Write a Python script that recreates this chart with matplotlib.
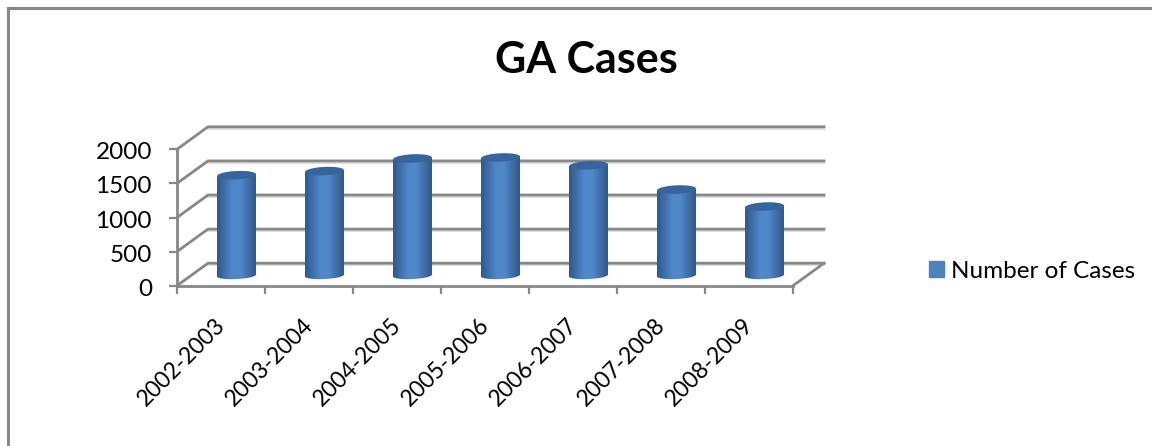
import numpy as np
import matplotlib
matplotlib.use("Agg")
import matplotlib.pyplot as plt
from matplotlib.patches import PathPatch, Patch
from matplotlib.path import Path
from matplotlib.colors import LinearSegmentedColormap
from matplotlib.transforms import ScaledTranslation

plt.rcParams['font.family'] = ['Lato', 'DejaVu Sans']

years = ["2002-2003", "2003-2004", "2004-2005", "2005-2006",
         "2006-2007", "2007-2008", "2008-2009"]
cases = [1470, 1530, 1715, 1730, 1615, 1260, 1010]
y_ticks = [0, 500, 1000, 1500, 2000]

W, H = 1152, 446
GREY = "#888888"

fig = plt.figure(figsize=(W / 100, H / 100), dpi=100)

# plot area in pixels, front face of the fake 3D box
left, right, bottom, top = 177, 793, 285.7, 149.3
ax = fig.add_axes([left / W, 1 - bottom / H, (right - left) / W, (bottom - top) / H])
ax.set_xlim(0, len(years))
ax.set_ylim(0, 2000)
ax.patch.set_alpha(0)

px_x = len(years) / (right - left)
px_y = 2000 / (bottom - top)

# depth of the box
dx = 31 * px_x
dy = 22.5 * px_y

# back wall and side wall gridlines, with the soft shadow under them
for v in y_ticks:
    ax.plot([dx, len(years) + dx], [v + dy - 2.2 * px_y] * 2, color="#dedede", lw=1.5,
            clip_on=False, zorder=0.5)
    ax.plot([0, dx, len(years) + dx], [v, v + dy, v + dy], color=GREY, lw=2.0,
            clip_on=False, solid_joinstyle="miter", zorder=1)
ax.plot([len(years), len(years) + dx], [0, dy], color=GREY, lw=2.0,
        clip_on=False, zorder=1)

# cylinders
cmap = LinearSegmentedColormap.from_list(
    "cyl", ["#2d5a8c", "#3f70a9", "#5287c9", "#5287c9", "#3f70a9", "#2d5a8c"])
grad = np.linspace(0, 1, 256).reshape(1, -1)
half = 19.5 * px_x
top_h = 4.2 * px_y
bot_h = 3.6 * px_y
tilt = 0.9 * px_y
t = np.linspace(0, np.pi, 40)
t2 = np.linspace(0, 2 * np.pi, 80)

for i, val in enumerate(cases):
    cx = i + 0.5 + dx / 2
    y0 = dy / 2 - 1 * px_y
    y1 = y0 + val
    c = np.cos(t)
    xs = cx + half * c
    body_x = np.concatenate([xs, xs[::-1]])
    body_y = np.concatenate([y1 + tilt * c,
                             (y0 + tilt * c - bot_h * np.sin(t))[::-1]])
    body = Path(np.column_stack([body_x, body_y]))
    im = ax.imshow(grad, cmap=cmap, aspect="auto", zorder=3,
                   extent=[cx - half, cx + half, y0 - bot_h - tilt, y1 + top_h + tilt])
    im.set_clip_path(PathPatch(body, transform=ax.transData))

    cap_x = cx + half * np.cos(t2)
    cap_y = y1 + top_h * np.sin(t2) + tilt * np.cos(t2)
    ax.fill(cap_x, cap_y, color="#35659a", zorder=4, clip_on=False, lw=0)

ax.set_xlim(0, len(years))
ax.set_ylim(0, 2000)

# axes
for s in ["top", "right"]:
    ax.spines[s].set_visible(False)
for s in ["left", "bottom"]:
    ax.spines[s].set_color(GREY)
    ax.spines[s].set_linewidth(2.0)
    ax.spines[s].set_zorder(2)

ax.set_yticks(y_ticks)
ax.set_yticklabels([str(v) for v in y_ticks], fontsize=17.5, color="black")
ax.tick_params(axis="y", length=6, width=1.6, color=GREY, pad=12)
shift_y = ScaledTranslation(0, -1.5 / 100, fig.dpi_scale_trans)
for lab in ax.get_yticklabels():
    lab.set_transform(lab.get_transform() + shift_y)

ax.set_xticks(range(len(years) + 1))
ax.set_xticklabels([])
ax.set_xticks(np.arange(len(years)) + 0.5, minor=True)
ax.set_xticklabels(years, minor=True, rotation=45, ha="right",
                   rotation_mode="anchor", fontsize=16.5, color="black")
ax.tick_params(axis="x", which="major", length=6, width=1.6, color=GREY)
ax.tick_params(axis="x", which="minor", length=0, pad=21)
shift = ScaledTranslation(-7 / 100, 0, fig.dpi_scale_trans)
for lab in ax.get_xticklabels(minor=True):
    lab.set_transform(lab.get_transform() + shift)

fig.text(586 / W, 1 - 60 / H, "GA Cases", fontsize=31, fontweight="bold",
         ha="center", va="center", color="black")

fig.legend(handles=[Patch(color="#4f81bd", label="Number of Cases")],
           loc="center left", bbox_to_anchor=(929 / W, 1 - 271 / H), frameon=False,
           fontsize=17.5, handlelength=0.62, handleheight=0.62, handletextpad=0.3,
           borderpad=0, borderaxespad=0)

# chart frame, only top and left are in the crop
fig.add_artist(plt.Line2D([8 / W, 8 / W], [0, 1 - 8 / H], color=GREY, lw=2.2))
fig.add_artist(plt.Line2D([8 / W, 1], [1 - 8 / H, 1 - 8 / H], color=GREY, lw=2.2))

fig.savefig("out.png", dpi=100)
